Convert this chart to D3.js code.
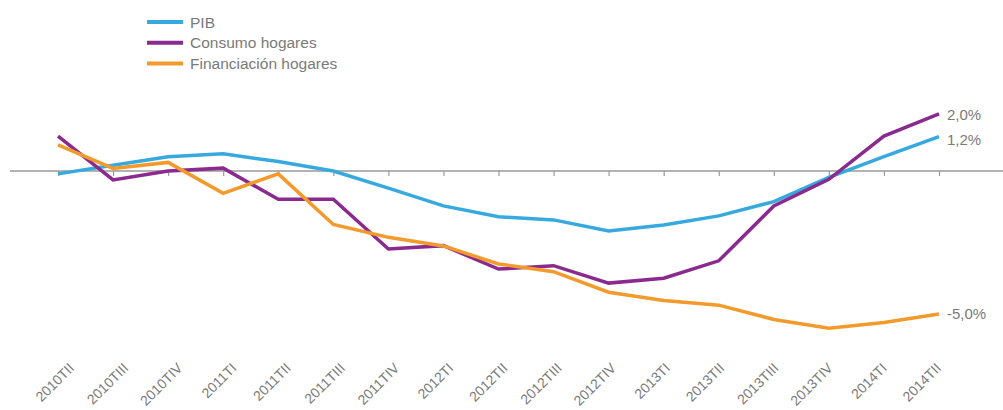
<!DOCTYPE html>
<html>
<head>
<meta charset="utf-8">
<script src="https://cdnjs.cloudflare.com/ajax/libs/d3/7.8.5/d3.min.js"></script>
<style>
  body { margin: 0; background: #fff; }
  svg { display: block; }
  text { font-family: "Liberation Sans", Arial, sans-serif; fill: #7a7a7a; }
</style>
</head>
<body>
<div id="chart"></div>
<script>
  var quarters = ['2010TII', '2010TIII', '2010TIV', '2011TI', '2011TII', '2011TIII', '2011TIV',
    '2012TI', '2012TII', '2012TIII', '2012TIV', '2013TI', '2013TII', '2013TIII', '2013TIV',
    '2014TI', '2014TII'];

  var pib = [-0.1, 0.2, 0.5, 0.6, 0.33, 0.0, -0.6, -1.22, -1.6, -1.71, -2.1, -1.89, -1.57,
    -1.07, -0.22, 0.5, 1.2];
  var consumo = [1.22, -0.31, 0.0, 0.1, -0.99, -0.99, -2.73, -2.61, -3.43, -3.31, -3.92,
    -3.75, -3.14, -1.22, -0.29, 1.22, 2.0];
  var financiacion = [0.91, 0.09, 0.3, -0.78, -0.1, -1.87, -2.32, -2.62, -3.25, -3.52,
    -4.24, -4.53, -4.69, -5.19, -5.5, -5.3, -5.0];

  var seriesNames = ['PIB', 'Consumo hogares', 'Financiación hogares'];
  var endLabels = ['1,2%', '2,0%', '-5,0%'];

  const WIDTH = 1003;
  const HEIGHT = 410;
  var colors = ['#37a9de', '#8b2a8e', '#f29a2c'];
  var labelNudge = [8, 6, 5];

  var series = [pib, consumo, financiacion];

  var x = d3.scalePoint()
    .domain(quarters)
    .range([58, 939]);

  // the tick labels drift a little from the ticks in the original
  var xLabel = d3.scalePoint()
    .domain(quarters)
    .range([75, 942]);

  var y = d3.scaleLinear()
    .domain([0, 2])
    .range([171, 113.8]);

  var svg = d3.select('#chart').append('svg')
    .attr('width', WIDTH)
    .attr('height', HEIGHT);

  // zero axis with ticks
  var xAxis = d3.axisBottom(x)
    .tickSize(5)
    .tickFormat('');

  var axis = svg.append('g')
    .attr('class', 'x axis')
    .attr('transform', 'translate(0,' + y(0) + ')')
    .call(xAxis);
  axis.select('.domain').remove();
  axis.selectAll('line')
    .attr('stroke', '#9a9a9a')
    .attr('stroke-width', 1.2);

  svg.append('line')
    .attr('x1', 10)
    .attr('x2', WIDTH)
    .attr('y1', y(0))
    .attr('y2', y(0))
    .attr('stroke', '#9a9a9a')
    .attr('stroke-width', 1.5);

  svg.append('g')
    .selectAll('text')
    .data(quarters)
    .enter().append('text')
    .attr('transform', function(d) {
      return 'translate(' + xLabel(d) + ',369) rotate(-45)';
    })
    .attr('text-anchor', 'end')
    .style('font-size', '14px')
    .text(function(d) { return d; });

  var line = d3.line()
    .x(function(d, i) { return x(quarters[i]); })
    .y(function(d) { return y(d); });

  series.forEach(function(values, k) {
    svg.append('path')
      .datum(values)
      .attr('fill', 'none')
      .attr('stroke', colors[k])
      .attr('stroke-width', 3.5)
      .attr('stroke-linejoin', 'miter')
      .attr('d', line);

    var last = values.length - 1;
    svg.append('text')
      .attr('x', x(quarters[last]) + 8)
      .attr('y', y(values[last]) + labelNudge[k])
      .style('font-size', '15px')
      .text(endLabels[k]);
  });

  // legend
  var legend = svg.append('g')
    .attr('transform', 'translate(147,22)');

  seriesNames.forEach(function(name, k) {
    legend.append('line')
      .attr('x1', 0)
      .attr('x2', 36)
      .attr('y1', k * 20.7)
      .attr('y2', k * 20.7)
      .attr('stroke', colors[k])
      .attr('stroke-width', 4);
    legend.append('text')
      .attr('x', 43)
      .attr('y', k * 20.7 + 5.5)
      .style('font-size', '15.5px')
      .text(name);
  });
</script>
</body>
</html>
